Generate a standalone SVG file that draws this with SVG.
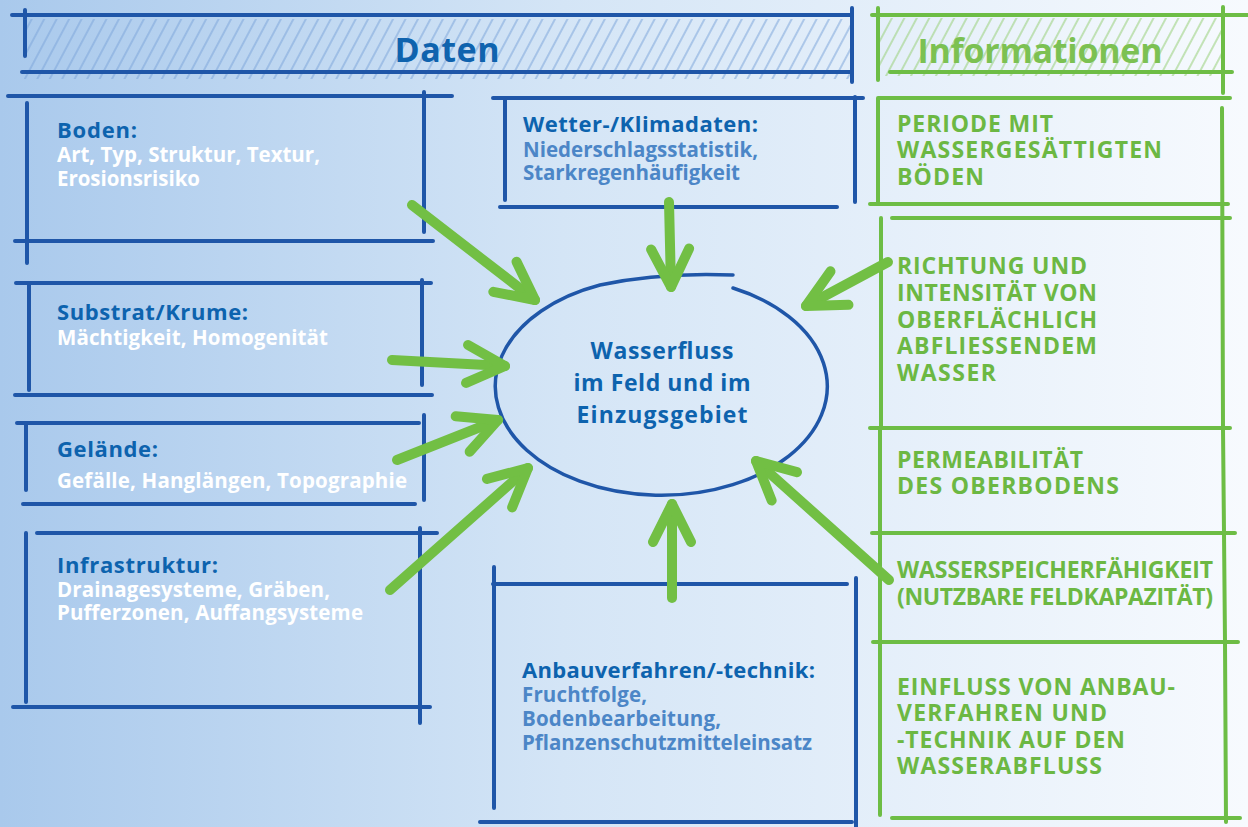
<svg xmlns="http://www.w3.org/2000/svg" width="1248" height="827" viewBox="0 0 1248 827">
<defs>
<linearGradient id="bg" x1="0" y1="0" x2="1" y2="0">
<stop offset="0" stop-color="#a9c9ec"/>
<stop offset="0.45" stop-color="#d4e5f6"/>
<stop offset="1" stop-color="#f7fafe"/>
</linearGradient>
<pattern id="hb" width="11" height="60" patternUnits="userSpaceOnUse" patternTransform="rotate(28)">
<line x1="4" y1="0" x2="4" y2="60" stroke="#7fa6db" stroke-width="1.8" stroke-opacity="0.6"/>
</pattern>
<pattern id="hg" width="11" height="60" patternUnits="userSpaceOnUse" patternTransform="rotate(28)">
<line x1="4" y1="0" x2="4" y2="60" stroke="#9fd283" stroke-width="1.8" stroke-opacity="0.65"/>
</pattern>
<marker id="ah" markerUnits="userSpaceOnUse" viewBox="-50 -30 60 60" refX="0" refY="0" markerWidth="60" markerHeight="60" orient="auto" overflow="visible">
<path d="M-38,-19 L0,0 L-38,19" fill="none" stroke="#72bf44" stroke-width="10" stroke-linecap="round" stroke-linejoin="round"/>
</marker>
<style>
.bl{fill:none;stroke:#1f56a8;stroke-width:4;stroke-linecap:round}
.gl{fill:none;stroke:#6dbd45;stroke-width:4;stroke-linecap:round}
.arr{fill:none;stroke:#72bf44;stroke-width:10;stroke-linecap:round;marker-end:url(#ah)}
text{font-family:"Open Sans","DejaVu Sans",sans-serif;font-weight:700}
.t{fill:#0d63ae;font-size:22px}
.s{fill:#ffffff;font-size:20.5px}
.w{fill:#4c86c7;font-size:20.5px}
.c{fill:#0d63ae;font-size:23px;text-anchor:middle}
.g{fill:#6cb843;font-size:23px}
.hd{font-size:34px;text-anchor:middle}
</style>
</defs>
<rect x="0" y="0" width="1248" height="827" fill="url(#bg)"/>

<g id="header-daten">
<rect x="24" y="19" width="827" height="60" fill="url(#hb)"/>
<path class="bl" d="M12,15 L852,15 M25,10 L25,56 M852,8 L852,82 M22,72 L852,72"/>
<text class="hd" x="447" y="62" fill="#0f63ae" textLength="105">Daten</text>
</g>

<g id="header-informationen">
<rect x="880" y="18" width="343" height="58" fill="url(#hg)"/>
<path class="gl" d="M872,15 L1248,15 M878,8 L878,80 M1223,7 L1223,93 M890,72 L1232,72"/>
<text class="hd" x="1040" y="63" fill="#7cc152" textLength="245">Informationen</text>
</g>

<g id="boden">
<path class="bl" d="M8,96 L452,96 M27,103 L27,263 M424,92 L424,232 M15,241 L433,241"/>
<text class="t" x="57" y="138" textLength="80">Boden:</text>
<text class="s" x="57" y="162" textLength="263">Art, Typ, Struktur, Textur,</text>
<text class="s" x="57" y="186" textLength="143">Erosionsrisiko</text>
</g>

<g id="substrat">
<path class="bl" d="M16,283 L431,283 M29,283 L29,390 M422,280 L422,385 M15,395 L432,395"/>
<text class="t" x="57" y="320" textLength="191">Substrat/Krume:</text>
<text class="s" x="57" y="345" textLength="271">Mächtigkeit, Homogenität</text>
</g>

<g id="gelaende">
<path class="bl" d="M17,423 L419,423 M26,423 L26,490 M424,415 L424,500 M23,504 L415,504"/>
<text class="t" x="57" y="457" textLength="101">Gelände:</text>
<text class="s" x="57" y="488" textLength="350">Gefälle, Hanglängen, Topographie</text>
</g>

<g id="infrastruktur">
<path class="bl" d="M37,533 L437,533 M26,533 L26,702 M420,528 L420,723 M13,707 L430,707"/>
<text class="t" x="57" y="573" textLength="161">Infrastruktur:</text>
<text class="s" x="57" y="597" textLength="273">Drainagesysteme, Gräben,</text>
<text class="s" x="57" y="620" textLength="306">Pufferzonen, Auffangsysteme</text>
</g>

<g id="wetter">
<path class="bl" d="M493,98 L863,98 M505,98 L505,200 M855,97 L855,202 M500,207 L837,207"/>
<text class="t" x="523" y="132" textLength="235">Wetter-/Klimadaten:</text>
<text class="w" x="523" y="157" textLength="235">Niederschlagsstatistik,</text>
<text class="w" x="523" y="180" textLength="217">Starkregenhäufigkeit</text>
</g>

<g id="anbau">
<path class="bl" d="M493,584 L847,584 M494,567 L494,808 M856,578 L856,827 M480,822 L852,822"/>
<text class="t" x="522" y="678" textLength="293">Anbauverfahren/-technik:</text>
<text class="w" x="522" y="702" textLength="125">Fruchtfolge,</text>
<text class="w" x="522" y="726" textLength="199">Bodenbearbeitung,</text>
<text class="w" x="522" y="750" textLength="290">Pflanzenschutzmitteleinsatz</text>
</g>

<g id="wasserfluss">
<path d="M733,288 A166,109 0 1 1 600,285 Q660,272 733,275" fill="none" stroke="#1f56a8" stroke-width="3.5" stroke-linecap="round"/>
<text class="c" x="662" y="359" textLength="143">Wasserfluss</text>
<text class="c" x="662" y="391" textLength="177">im Feld und im</text>
<text class="c" x="662" y="423" textLength="171">Einzugsgebiet</text>
</g>

<g id="info-periode">
<path class="gl" d="M878,98 L1230,98 M878,98 L878,203 M870,204 L1228,204"/>
<text class="g" x="897" y="132" textLength="156">PERIODE MIT</text>
<text class="g" x="897" y="158" textLength="265">WASSERGESÄTTIGTEN</text>
<text class="g" x="897" y="185" textLength="87">BÖDEN</text>
</g>

<g id="info-richtung">
<path class="gl" d="M892,218 L1230,218 M881,218 L881,428 M1222,108 L1223,428 M870,428 L1230,428"/>
<text class="g" x="897" y="274" textLength="190">RICHTUNG UND</text>
<text class="g" x="897" y="301" textLength="200">INTENSITÄT VON</text>
<text class="g" x="897" y="328" textLength="200">OBERFLÄCHLICH</text>
<text class="g" x="897" y="354" textLength="200">ABFLIESSENDEM</text>
<text class="g" x="897" y="381" textLength="99">WASSER</text>
</g>

<g id="info-permeabilitaet">
<path class="gl" d="M880,428 L880,533 M1223,428 L1224,533 M872,533 L1235,533"/>
<text class="g" x="897" y="468" textLength="186">PERMEABILITÄT</text>
<text class="g" x="897" y="494" textLength="222">DES OBERBODENS</text>
</g>

<g id="info-wasserspeicher">
<path class="gl" d="M880,533 L880,642 M1224,533 L1225,642 M873,642 L1238,642"/>
<text class="g" x="897" y="578" textLength="316">WASSERSPEICHERFÄHIGKEIT</text>
<text class="g" x="897" y="605" textLength="316">(NUTZBARE FELDKAPAZITÄT)</text>
</g>

<g id="info-einfluss">
<path class="gl" d="M880,642 L880,815 M1225,642 L1226,822 M892,818 L1240,818"/>
<text class="g" x="897" y="695" textLength="278">EINFLUSS VON ANBAU-</text>
<text class="g" x="897" y="721" textLength="210">VERFAHREN UND</text>
<text class="g" x="897" y="748" textLength="228">-TECHNIK AUF DEN</text>
<text class="g" x="897" y="774" textLength="205">WASSERABFLUSS</text>
</g>

<g id="connectors">
<path class="arr" d="M412,205 L535,300"/>
<path class="arr" d="M669,202 L671,287"/>
<path class="arr" d="M888,262 L806,306"/>
<path class="arr" d="M392,360 L505,366"/>
<path class="arr" d="M397,460 L498,420"/>
<path class="arr" d="M390,590 L528,468"/>
<path class="arr" d="M672,598 L672,504"/>
<path class="arr" d="M889,580 L756,461"/>
</g>
</svg>
